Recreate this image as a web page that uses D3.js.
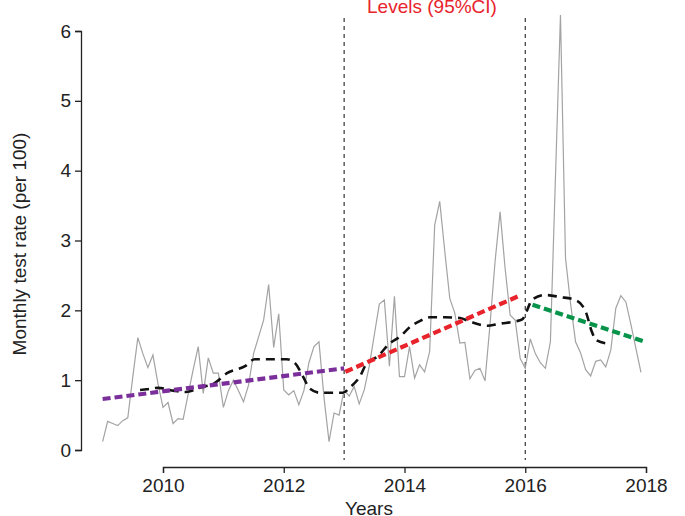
<!DOCTYPE html>
<html><head><meta charset="utf-8">
<script src="https://cdn.jsdelivr.net/npm/d3@7"></script>
<style>body{margin:0;background:#fff}svg{display:block;font-family:"Liberation Sans",Arial,sans-serif}</style>
</head><body>
<script>
// Monthly test rate (per 100), Jan 2009 .. Dec 2017
const startYear = 2009;
const monthlyRate = [0.12,0.41,0.38,0.35,0.42,0.46,1.05,1.61,1.38,1.18,1.36,0.95,
0.61,0.68,0.38,0.45,0.44,0.80,1.15,1.48,0.81,1.32,1.10,1.10,
0.61,0.85,1.00,0.85,0.69,0.93,1.38,1.62,1.86,2.37,1.47,1.95,
0.86,0.79,0.85,0.65,0.85,1.25,1.48,1.55,0.75,0.12,0.53,0.50,
0.86,0.77,0.91,0.66,0.86,1.20,1.65,2.09,2.15,1.20,2.20,1.05,
1.05,1.48,1.03,1.22,1.12,1.41,3.22,3.56,2.85,2.17,1.96,1.53,
1.54,1.02,1.14,1.17,0.99,1.80,2.70,3.41,2.60,1.93,1.86,1.31,
1.17,1.59,1.38,1.25,1.17,1.55,3.90,6.23,2.75,2.10,1.55,1.39,
1.15,1.06,1.27,1.29,1.19,1.43,2.03,2.21,2.12,1.80,1.45,1.11];
// Smoothed trend (black dashed): [year, value]
const trendYears = [2009.62,2009.73,2009.92,2010.17,2010.38,2010.61,2010.86,2011.06,2011.36,2011.52,2011.77,2012.05,2012.19,2012.32,2012.43,2012.60,2012.98,2013.10,2013.26,2013.38,2013.54,2013.76,2013.92,2014.09,2014.26,2014.42,2014.67,2014.92,2015.08,2015.37,2015.58,2015.83,2015.95,2016.03,2016.11,2016.33,2016.58,2016.82,2016.95,2017.01,2017.10,2017.18,2017.40];
const trendValues = [0.86,0.87,0.89,0.85,0.83,0.89,0.96,1.10,1.20,1.30,1.30,1.30,1.24,1.05,0.88,0.82,0.82,0.90,1.05,1.25,1.33,1.53,1.62,1.76,1.85,1.90,1.90,1.89,1.84,1.78,1.81,1.84,1.87,2.00,2.15,2.22,2.19,2.15,2.06,1.96,1.70,1.57,1.52];
// Segmented regression levels
const segNames = ["pre","mid","post"];
const segStart = [2009.0, 2013.02, 2016.12];
const segEnd = [2013.0, 2015.88, 2017.95];
const segStartVal = [0.73, 1.12, 2.08];
const segEndVal = [1.17, 2.20, 1.56];
const segColors = ["#7a2f9b","#e8232b","#07944a"];
const breakYears = [2013, 2016];
const xTicks = [2010, 2012, 2014, 2016, 2018];
const yTicks = [0,1,2,3,4,5,6];

const W = 685, H = 516;
const FS = 19;
const svg = d3.select("body").append("svg").attr("width", W).attr("height", H);
const x = d3.scaleLinear().domain([2010, 2018]).range([163, 646]);
const y = d3.scaleLinear().domain([0, 6]).range([450, 31]);

// axes
const yAxis = svg.append("g").attr("transform","translate(81,0)")
  .call(d3.axisLeft(y).tickValues(yTicks).tickSize(6).tickPadding(4).tickFormat(d3.format("d")));
const xAxis = svg.append("g").attr("transform","translate(0,467)")
  .call(d3.axisBottom(x).tickValues(xTicks).tickSize(6).tickPadding(6).tickFormat(d3.format("d")));
[yAxis, xAxis].forEach(a => {
  a.select(".domain").attr("stroke","#222").attr("stroke-width",1.3);
  a.selectAll(".tick line").attr("stroke","#222").attr("stroke-width",1.3);
  a.selectAll("text").attr("font-size",FS).attr("fill","#222").attr("font-family","Liberation Sans, Arial, sans-serif");
});

// break lines
svg.selectAll(".brk").data(breakYears).enter().append("line")
  .attr("x1", d=>x(d)).attr("x2", d=>x(d)).attr("y1", 18).attr("y2", 460)
  .attr("stroke","#222").attr("stroke-width",1.1).attr("stroke-dasharray","4,4");

// grey monthly line
const line = d3.line().x(d=>x(d[0])).y(d=>y(d[1]));
const monthly = monthlyRate.map((v,i)=>[startYear + i/12, v]);
svg.append("path").attr("d", line(monthly)).attr("fill","none")
  .attr("stroke","#a3a3a3").attr("stroke-width",1.2);

// trend
svg.append("path").attr("d", d3.line().curve(d3.curveMonotoneX).x(d=>x(d[0])).y(d=>y(d[1]))(trendYears.map((t,i)=>[t,trendValues[i]])))
  .attr("fill","none").attr("stroke","#111").attr("stroke-width",2.6).attr("stroke-dasharray","9,6");

// segments
segNames.forEach((n,i)=>{
  svg.append("line").attr("x1", x(segStart[i])).attr("x2", x(segEnd[i]))
    .attr("y1", y(segStartVal[i])).attr("y2", y(segEndVal[i]))
    .attr("stroke", segColors[i]).attr("stroke-width",4.2).attr("stroke-dasharray","8,4");
});

// title and labels
svg.append("text").attr("x", 432).attr("y", 13).attr("text-anchor","middle")
  .attr("font-size",FS).attr("fill","#e8232b").text("Levels (95%CI)");
svg.append("text").attr("x", 369).attr("y", 515).attr("text-anchor","middle")
  .attr("font-size",FS).attr("fill","#222").text("Years");
svg.append("text").attr("transform","translate(26,244) rotate(-90)").attr("text-anchor","middle")
  .attr("font-size",FS).attr("fill","#222").text("Monthly test rate (per 100)");
</script>
</body></html>
